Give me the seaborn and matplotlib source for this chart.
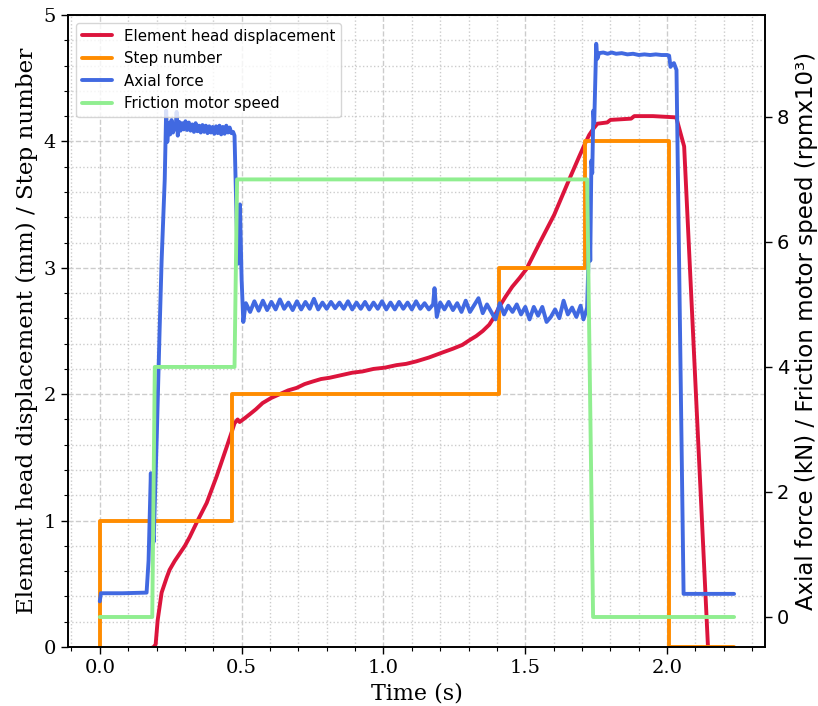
import matplotlib
matplotlib.use("Agg")
import matplotlib.pyplot as plt
from matplotlib.ticker import MultipleLocator
import seaborn as sns

# ---------------------------------------------------------------- data
# Element head displacement (mm), left axis
red_t = [0.180, 0.190, 0.197, 0.204, 0.218, 0.236, 0.246, 0.264, 0.282, 0.300,
         0.317, 0.345, 0.377, 0.412, 0.447, 0.465, 0.475, 0.486, 0.493, 0.511,
         0.528, 0.550, 0.574, 0.604, 0.634, 0.664, 0.694, 0.722, 0.750, 0.780,
         0.810, 0.850, 0.890, 0.926, 0.965, 1.005, 1.046, 1.080, 1.116, 1.160,
         1.208, 1.245, 1.278, 1.305, 1.327, 1.350, 1.373, 1.390, 1.408, 1.430,
         1.454, 1.480, 1.504, 1.549, 1.602, 1.655, 1.690, 1.708, 1.725, 1.740,
         1.754, 1.789, 1.800, 1.873, 1.884, 1.950, 2.032, 2.060, 2.144, 2.160]
red_v = [-0.01, 0.00, 0.02, 0.21, 0.43, 0.55, 0.61, 0.68, 0.74, 0.80,
         0.87, 1.00, 1.14, 1.35, 1.58, 1.70, 1.77, 1.80, 1.78, 1.81,
         1.84, 1.88, 1.93, 1.97, 2.00, 2.03, 2.05, 2.08, 2.10, 2.12,
         2.13, 2.15, 2.17, 2.18, 2.20, 2.21, 2.23, 2.24, 2.26, 2.29,
         2.33, 2.36, 2.39, 2.43, 2.46, 2.50, 2.55, 2.61, 2.69, 2.77,
         2.85, 2.92, 2.99, 3.19, 3.42, 3.70, 3.88, 3.97, 4.05, 4.10,
         4.14, 4.15, 4.17, 4.18, 4.20, 4.20, 4.19, 3.96, 0.00, -0.30]

# Step number, left axis
step_t = [0.000, 0.000, 0.467, 0.467, 1.408, 1.408, 1.711, 1.711, 2.007, 2.007, 2.236]
step_v = [0, 1, 1, 2, 2, 3, 3, 4, 4, 0, 0]

# Axial force (kN), right axis
force_t = [
    0.000, 0.004, 0.080, 0.165, 0.172, 0.180, 0.183, 0.190, 0.201, 0.211,
    0.218, 0.229, 0.234, 0.238,
    0.243, 0.248, 0.253, 0.258, 0.263, 0.267, 0.271, 0.275, 0.280, 0.285,
    0.290, 0.296, 0.302, 0.308, 0.314, 0.320, 0.326, 0.332, 0.338, 0.344,
    0.350, 0.356, 0.362, 0.368, 0.374, 0.380, 0.386, 0.392, 0.398, 0.404,
    0.410, 0.416, 0.422, 0.428, 0.434, 0.440, 0.446, 0.452, 0.458, 0.464,
    0.470,
    0.475, 0.481, 0.486, 0.490, 0.494, 0.500, 0.506, 0.511,
    0.515, 0.530, 0.545, 0.560, 0.575, 0.590, 0.605, 0.620, 0.635, 0.650,
    0.665, 0.680, 0.695, 0.710, 0.725, 0.740, 0.755, 0.770, 0.785, 0.800,
    0.815, 0.830, 0.845, 0.860, 0.875, 0.890, 0.905, 0.920, 0.935, 0.950,
    0.965, 0.980, 0.995, 1.010, 1.025, 1.040, 1.055, 1.070, 1.085, 1.100,
    1.115, 1.130, 1.145, 1.160, 1.175,
    1.180, 1.188, 1.200, 1.215, 1.230, 1.245, 1.260, 1.275,
    1.290, 1.305, 1.320, 1.335, 1.350, 1.365, 1.380, 1.395, 1.410, 1.425,
    1.440, 1.455, 1.470, 1.485, 1.500, 1.515, 1.530, 1.545, 1.560, 1.575,
    1.590, 1.605, 1.620, 1.635, 1.650, 1.665, 1.680, 1.695, 1.705, 1.715,
    1.718, 1.722, 1.725, 1.729, 1.733, 1.736, 1.740, 1.743, 1.750, 1.754,
    1.760, 1.775, 1.790, 1.805, 1.820, 1.840, 1.860, 1.880, 1.900, 1.920,
    1.940, 1.960, 1.980, 2.000, 2.007, 2.012, 2.017, 2.024, 2.033, 2.058,
    2.100, 2.236]
force_v = [
    0.25, 0.38, 0.38, 0.39, 0.90, 2.30, 1.60, 1.20, 2.90, 4.60,
    5.70, 7.00, 8.10, 7.60,
    7.90, 7.72, 7.95, 7.75, 7.88, 7.80, 8.08, 7.70, 7.92, 7.78,
    7.90, 7.80, 7.93, 7.79, 7.91, 7.78, 7.88, 7.76, 7.90, 7.77,
    7.86, 7.75, 7.87, 7.76, 7.86, 7.74, 7.85, 7.75, 7.84, 7.73,
    7.85, 7.74, 7.86, 7.72, 7.84, 7.73, 7.86, 7.75, 7.83, 7.74,
    7.76,
    7.70, 6.60, 5.65, 5.90, 6.60, 5.40, 4.72, 4.90,
    5.02, 4.88, 5.05, 4.90, 5.06, 4.91, 5.04, 4.92, 5.08, 4.93,
    5.03, 4.91, 5.05, 4.92, 5.04, 4.93, 5.09, 4.92, 5.03, 4.93,
    5.04, 4.94, 5.03, 4.93, 5.05, 4.92, 5.03, 4.93, 5.04, 4.92,
    5.03, 4.93, 5.05, 4.92, 5.03, 4.92, 5.04, 4.93, 5.03, 4.92,
    5.05, 4.93, 5.02, 4.92, 5.00,
    5.26, 4.80, 5.03, 4.92, 5.04, 4.91, 5.02, 4.88,
    5.06, 4.88, 4.99, 5.10, 4.86, 5.00, 4.88, 4.76, 5.02, 4.84,
    4.98, 4.88, 5.00, 4.84, 4.96, 4.76, 4.96, 4.82, 4.96, 4.72,
    4.80, 4.92, 4.78, 5.06, 4.84, 4.95, 4.80, 4.98, 4.76, 4.90,
    4.95, 5.60, 6.70, 5.70, 7.30, 7.10, 8.10, 7.90, 9.17, 8.93,
    9.02, 9.03, 9.01, 9.03, 9.01, 9.02, 9.00, 9.01, 8.99, 9.00,
    8.99, 9.00, 8.99, 8.99, 8.98, 8.80, 8.84, 8.86, 8.75, 0.37,
    0.37, 0.37]

# Friction motor speed (rpm x 10^3), right axis
speed_t = [0.000, 0.185, 0.194, 0.475, 0.484, 1.718, 1.739, 2.236]
speed_v = [0, 0, 4, 4, 7, 7, 0, 0]

series_labels = ["Element head displacement", "Step number",
                 "Axial force", "Friction motor speed"]
series_colors = ["crimson", "darkorange", "royalblue", "lightgreen"]

x_label = "Time (s)"
left_label = "Element head displacement (mm) / Step number"
right_label = "Axial force (kN) / Friction motor speed (rpmx10³)"
right_ticks = [0, 2, 4, 6, 8]

# ---------------------------------------------------------------- style
sns.set_theme(style="ticks")
plt.rcParams["font.family"] = ["DejaVu Serif"]
plt.rcParams["axes.edgecolor"] = "black"
plt.rcParams["xtick.color"] = "black"
plt.rcParams["ytick.color"] = "black"
plt.rcParams["text.color"] = "black"
plt.rcParams["axes.labelcolor"] = "black"

fig = plt.figure(figsize=(8.18, 7.06), dpi=100)
ax = fig.add_axes([68 / 818, 59 / 706, 697 / 818, 632 / 706])
ax2 = ax.twinx()

lw = 2.8
common = dict(estimator=None, sort=False, linewidth=lw)
sns.lineplot(x=red_t, y=red_v, ax=ax, color=series_colors[0],
             label=series_labels[0], **common)
sns.lineplot(x=step_t, y=step_v, ax=ax, color=series_colors[1],
             label=series_labels[1], **common)
sns.lineplot(x=force_t, y=force_v, ax=ax2, color=series_colors[2],
             label=series_labels[2], **common)
sns.lineplot(x=speed_t, y=speed_v, ax=ax2, color=series_colors[3],
             label=series_labels[3], **common)

# axes limits and ticks
ax.set_xlim(-0.112, 2.345)
ax.set_ylim(0, 5)
ax2.set_ylim(-0.48, 9.63)

ax.xaxis.set_major_locator(MultipleLocator(0.5))
ax.xaxis.set_minor_locator(MultipleLocator(0.1))
ax.yaxis.set_major_locator(MultipleLocator(1))
ax.yaxis.set_minor_locator(MultipleLocator(0.2))
ax.xaxis.set_major_formatter(matplotlib.ticker.FormatStrFormatter("%.1f"))

ax.tick_params(which="major", length=5, width=1.0, labelsize=14, direction="out")
ax.tick_params(which="minor", length=3, width=0.8, direction="out")
ax2.set_yticks(right_ticks)
ax2.set_yticklabels([str(v) for v in right_ticks],
                    fontfamily="DejaVu Sans", fontsize=14)
ax2.tick_params(axis="y", which="major", length=5, width=1.0, direction="out")
ax2.yaxis.set_minor_locator(matplotlib.ticker.NullLocator())

for side in ["left", "right", "top", "bottom"]:
    ax.spines[side].set_linewidth(1.2)
    ax2.spines[side].set_linewidth(1.2)
    ax2.spines[side].set_color("black")

# grid
ax.set_axisbelow(True)
ax.grid(True, which="major", linestyle="--", color="#cccccc", linewidth=1.0)
ax.grid(True, which="minor", linestyle=":", color="#cccccc", linewidth=1.0)

# labels
ax.set_xlabel(x_label, fontsize=16)
ax.set_ylabel(left_label, fontsize=16.6)
ax2.set_ylabel(right_label, fontsize=16.5, fontfamily="DejaVu Sans")

# combined legend
h1, l1 = ax.get_legend_handles_labels()
h2, l2 = ax2.get_legend_handles_labels()
if ax.get_legend() is not None:
    ax.get_legend().remove()
ax2.legend(h1 + h2, l1 + l2, loc="upper left",
           prop={"family": "DejaVu Sans", "size": 10.8},
           frameon=True, fancybox=True, framealpha=0.8, edgecolor="0.8")

fig.savefig("out.png", dpi=100, facecolor="white")
